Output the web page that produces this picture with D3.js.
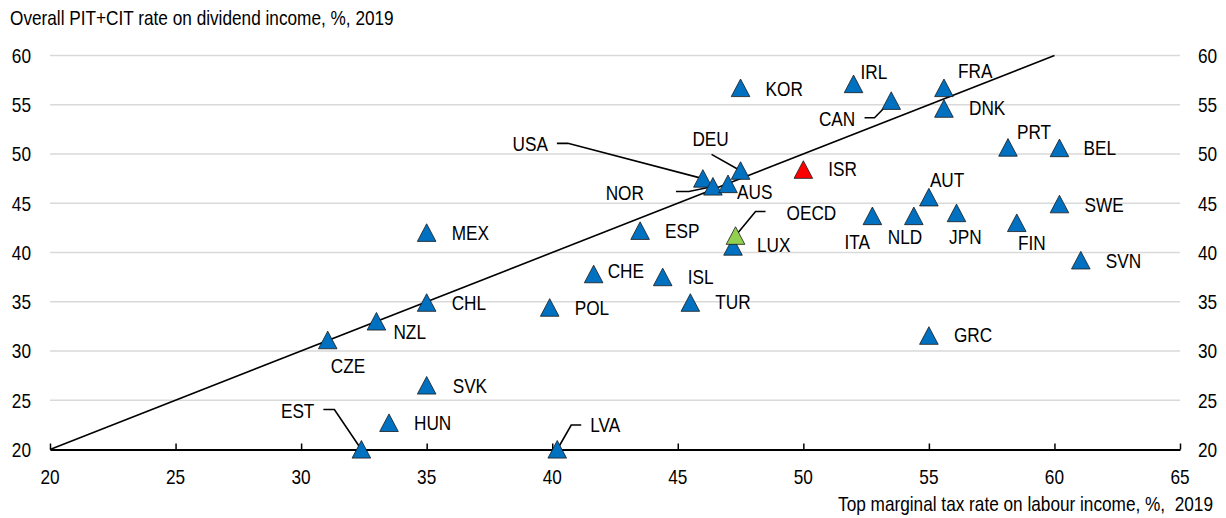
<!DOCTYPE html>
<html>
<head>
<meta charset="utf-8">
<script src="https://cdn.jsdelivr.net/npm/d3@7"></script>
<style>
  html, body { margin: 0; padding: 0; background: #fff; }
  svg text { font-family: "Liberation Sans", Arial, sans-serif; font-size: 21px; fill: #000; white-space: pre; }
</style>
</head>
<body>
<svg id="chart" width="1226" height="518"></svg>
<script>
// Country codes
const countries = ["CZE","NZL","CHL","MEX","SVK","HUN","EST","LVA","POL","CHE","ISL","TUR","ESP",
  "USA","NOR","AUS","DEU","KOR","LUX","ISR","IRL","CAN","FRA","DNK","ITA","NLD","AUT","JPN",
  "GRC","PRT","BEL","FIN","SWE","SVN","OECD"];
// Top marginal tax rate on labour income, %, 2019
const labourRate = [31.06, 33.0, 35.0, 35.0, 35.0, 33.5, 32.4, 40.2, 39.9, 41.65, 44.4, 45.5, 43.5,
  46.0, 46.4, 47.0, 47.5, 47.5, 47.2, 50.0, 52.0, 53.5, 55.6, 55.6, 52.75, 54.4, 55.0, 56.1,
  55.0, 58.15, 60.2, 58.5, 60.2, 61.05, 47.3];
// Overall PIT+CIT rate on dividend income, %, 2019
const dividendRate = [31.1, 33.0, 34.9, 42.0, 26.5, 22.7, 20.0, 20.0, 34.4, 37.8, 37.5, 34.9, 42.2,
  47.5, 46.7, 46.95, 48.3, 56.7, 40.6, 48.4, 57.1, 55.4, 56.7, 54.6, 43.7, 43.7, 45.6, 44.0,
  31.55, 50.65, 50.6, 43.0, 44.9, 39.2, 41.7];

const xTicks = [20, 25, 30, 35, 40, 45, 50, 55, 60, 65];
const yTicks = [20, 25, 30, 35, 40, 45, 50, 55, 60];
const yTitle = "Overall PIT+CIT rate on dividend income, %, 2019";
const xTitle = "Top marginal tax rate on labour income, %,  2019";

// Equal-rate reference line
const refLine = [[20, 20], [60, 60]];

// Label placement, in pixels relative to each marker (leader: elbow then end)
const place = {
  CZE: {dx: 3, dy: 25}, NZL: {dx: 17, dy: 10}, CHL: {dx: 25, dy: 0}, MEX: {dx: 25, dy: 0},
  SVK: {dx: 26, dy: 0}, HUN: {dx: 25, dy: 0},
  EST: {dx: -47, dy: -39, anchor: "end", leader: [[-27, -40], [-38, -40]]},
  LVA: {dx: 33, dy: -24.5, leader: [[14, -24.5], [24, -24.5]]},
  POL: {dx: 25, dy: 0}, CHE: {dx: 14, dy: -4}, ISL: {dx: 25, dy: 0}, TUR: {dx: 25, dy: -1},
  ESP: {dx: 25, dy: 0},
  USA: {dx: -155, dy: -35, anchor: "end", leader: [[-135, -35.3], [-146, -35.3]]},
  NOR: {dx: -69, dy: 6, anchor: "end", leader: [[-24, 5], [-37, 5]]},
  AUS: {dx: 9, dy: 8},
  DEU: {dx: -30, dy: -32, anchor: "middle", leader: [[-29, -16.4], [-29, -16.4]]},
  KOR: {dx: 25, dy: 1}, LUX: {dx: 24, dy: -2}, ISR: {dx: 25, dy: -1},
  IRL: {dx: 7, dy: -12.6},
  CAN: {dx: -36, dy: 17.5, anchor: "end", leader: [[-16.7, 17], [-26.7, 17]]},
  FRA: {dx: 14, dy: -17.6}, DNK: {dx: 25, dy: -1.4},
  ITA: {dx: -28, dy: 26}, NLD: {dx: -26, dy: 21}, AUT: {dx: 1, dy: -18}, JPN: {dx: -7.4, dy: 23.4},
  GRC: {dx: 25, dy: -0.7}, PRT: {dx: 9, dy: -16}, BEL: {dx: 24, dy: 0}, FIN: {dx: 1.3, dy: 20},
  SWE: {dx: 25, dy: 0}, SVN: {dx: 25, dy: 0},
  OECD: {dx: 51, dy: -23, leader: [[20, -24.3], [30, -24.3]]}
};

const markerFill = {ISR: "#ff0000", OECD: "#92d050"};
const defaultFill = "#0070c0";
const squeeze = 0.82;   // narrow typeface look

const svg = d3.select("#chart");
const x = d3.scaleLinear().domain([20, 65]).range([50, 1180]);
const y = d3.scaleLinear().domain([20, 60]).range([449.5, 55.5]);

function label(sel, tx, ty, txt, anchor) {
  return sel.append("text")
    .attr("transform", `translate(${tx},${ty}) scale(${squeeze},1)`)
    .attr("dy", "0.35em")
    .attr("text-anchor", anchor || "start")
    .text(txt);
}

// Horizontal gridlines
svg.append("g").selectAll("line").data(yTicks.filter(t => t > 20)).join("line")
  .attr("x1", x(20)).attr("x2", x(65))
  .attr("y1", d => y(d)).attr("y2", d => y(d))
  .attr("stroke", "#d9d9d9").attr("stroke-width", 1.3);

// Y tick labels on both sides
const yl = svg.append("g");
yTicks.forEach(t => {
  label(yl, 31, y(t), String(t), "end");
  label(yl, 1198, y(t), String(t), "start");
});

// X axis with inward ticks
const xAxis = svg.append("g").attr("transform", `translate(0,${y(20)})`)
  .call(d3.axisBottom(x).tickValues(xTicks).tickSize(-6).tickSizeOuter(0).tickFormat(""));
xAxis.select(".domain").attr("stroke", "#000").attr("stroke-width", 1.8);
xAxis.selectAll(".tick line").attr("stroke", "#000").attr("stroke-width", 1.5);
const xl = svg.append("g");
xTicks.forEach(t => label(xl, x(t), 477, String(t), "middle"));

// Titles
label(svg, 10, 18, yTitle, "start");
label(svg, 1213, 504, xTitle, "end");

// 45-degree line
svg.append("path")
  .attr("d", d3.line().x(d => x(d[0])).y(d => y(d[1]))(refLine))
  .attr("fill", "none").attr("stroke", "#000").attr("stroke-width", 1.6);

const pts = countries.map((c, i) => ({c, px: x(labourRate[i]), py: y(dividendRate[i])}));

// Leader lines
const lg = svg.append("g");
pts.forEach(p => {
  const pl = place[p.c];
  if (pl && pl.leader) {
    const path = [[p.px, p.py]].concat(pl.leader.map(o => [p.px + o[0], p.py + o[1]]));
    lg.append("path").attr("d", d3.line()(path))
      .attr("fill", "none").attr("stroke", "#000").attr("stroke-width", 1.6);
  }
});

// Triangle markers
const tri = "M0,-9L9.3,8.6L-9.3,8.6Z";
const order = pts.filter(p => p.c !== "OECD").concat(pts.filter(p => p.c === "OECD"));
svg.append("g").selectAll("path").data(order).join("path")
  .attr("d", tri)
  .attr("transform", d => `translate(${d.px},${d.py})`)
  .attr("fill", d => markerFill[d.c] || defaultFill)
  .attr("stroke", "#1a1a1a").attr("stroke-width", 0.8);

// Country labels
const cl = svg.append("g");
pts.forEach(p => {
  const pl = place[p.c] || {dx: 25, dy: 0};
  label(cl, p.px + pl.dx, p.py + pl.dy, p.c, pl.anchor);
});
</script>
</body>
</html>
